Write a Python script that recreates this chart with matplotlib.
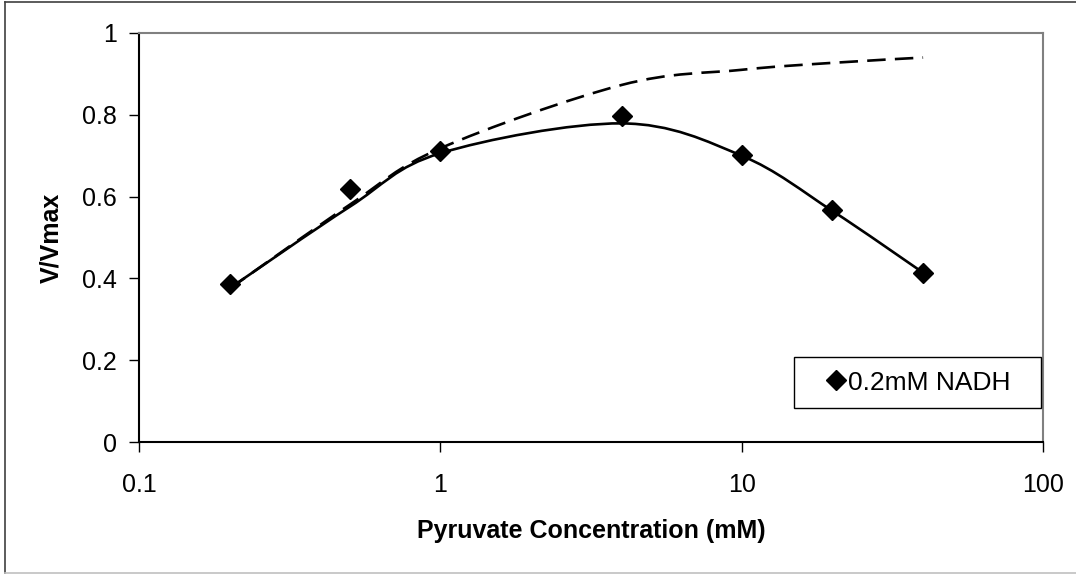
import numpy as np
import matplotlib
matplotlib.use("Agg")
import matplotlib.pyplot as plt
from matplotlib.path import Path
from matplotlib.patches import PathPatch, Rectangle
from matplotlib.lines import Line2D

# ---- data ----
conc = [0.2, 0.5, 1, 4, 10, 20, 40]                       # Pyruvate (mM)
v_obs = [0.386, 0.618, 0.712, 0.797, 0.701, 0.567, 0.414]  # measured V/Vmax, 0.2mM NADH
v_fit_inhib = [0.376, 0.575, 0.706, 0.779, 0.700, 0.565, 0.414]  # solid fitted curve nodes
v_fit_mm = [0.375, 0.580, 0.718, 0.873, 0.910, 0.927, 0.940]     # dashed curve nodes
xticks = [0.1, 1, 10, 100]
xtick_labels = ["0.1", "1", "10", "100"]
yticks = [0, 0.2, 0.4, 0.6, 0.8, 1]
ytick_labels = ["0", "0.2", "0.4", "0.6", "0.8", "1"]
series_label = "0.2mM NADH"

plt.rcParams['font.family'] = ['Liberation Sans', 'DejaVu Sans']

W, H = 1076, 574
L, R, T, B = 139, 1043, 33, 442
fig = plt.figure(figsize=(W / 100, H / 100), dpi=100)
ax = fig.add_axes([L / W, 1 - B / H, (R - L) / W, (B - T) / H])


def smooth_path(xs, ys):
    """Excel-style smoothed line (Catmull-Rom Bezier) in log-x space."""
    u = np.log10(np.asarray(xs, float))
    v = np.asarray(ys, float)
    n = len(u)
    verts = [(10 ** u[0], v[0])]
    codes = [Path.MOVETO]
    for i in range(n - 1):
        p0 = max(i - 1, 0)
        p3 = min(i + 2, n - 1)
        c1u = u[i] + (u[i + 1] - u[p0]) / 6
        c1v = v[i] + (v[i + 1] - v[p0]) / 6
        c2u = u[i + 1] - (u[p3] - u[i]) / 6
        c2v = v[i + 1] - (v[p3] - v[i]) / 6
        verts += [(10 ** c1u, c1v), (10 ** c2u, c2v), (10 ** u[i + 1], v[i + 1])]
        codes += [Path.CURVE4] * 3
    return Path(verts, codes)


ax.set_xscale('log')
ax.set_xlim(0.1, 100)
ax.set_ylim(0, 1)

ax.add_patch(PathPatch(smooth_path(conc, v_fit_mm), fill=False, edgecolor='black',
                       lw=1.9, linestyle=(0, (7.0, 3.5)), capstyle='butt', zorder=2))
ax.add_patch(PathPatch(smooth_path(conc, v_fit_inhib), fill=False, edgecolor='black',
                       lw=1.9, zorder=2))
ax.plot(conc, v_obs, linestyle='none', marker='D', markersize=10, color='black',
        zorder=3, label=series_label, clip_on=False)

ax.set_xticks(xticks)
ax.set_xticklabels(xtick_labels)
ax.xaxis.set_minor_locator(matplotlib.ticker.NullLocator())
ax.set_yticks(yticks)
ax.set_yticklabels(ytick_labels)
ax.tick_params(axis='both', direction='out', length=7.2, width=1.0, colors='black',
               labelsize=18)
ax.tick_params(axis='x', pad=15)
ax.tick_params(axis='y', pad=8.5)

for side in ['left', 'bottom']:
    ax.spines[side].set_color('black')
    ax.spines[side].set_linewidth(1.5)
for side in ['top', 'right']:
    ax.spines[side].set_color('#808080')
    ax.spines[side].set_linewidth(1.5)

ax.set_xlabel("Pyruvate Concentration (mM)", fontsize=18, fontweight='bold')
ax.xaxis.set_label_coords((591 - L) / (R - L), -(531 - B) / (B - T))
ax.xaxis.label.set_va('center')
ax.set_ylabel("V/Vmax", fontsize=18, fontweight='bold')
ax.yaxis.set_label_coords(-(L - 51) / (R - L), 0.5)
ax.yaxis.label.set_va('center')

# legend: box spans x 794..1041, y 357..408 in the reference
bx0, bx1, by0, by1 = 794, 1041, 357, 408
def ax_x(px):
    return (px - L) / (R - L)
def ax_y(py):
    return (B - py) / (B - T)

ax.add_patch(Rectangle((ax_x(bx0), ax_y(by1)), ax_x(bx1) - ax_x(bx0), ax_y(by0) - ax_y(by1),
                       transform=ax.transAxes, facecolor='white', edgecolor='black',
                       lw=1.0, zorder=4))
leg = ax.legend(loc='center', bbox_to_anchor=(ax_x(919), ax_y(382.5)),
                frameon=False, fontsize=19, handlelength=0.7,
                handletextpad=0.1, borderpad=0.0, markerscale=1.0,
                borderaxespad=0.0)
leg.set_zorder(5)

# outer chart border
fig.add_artist(Line2D([5 / W, 5 / W], [0.002, 1 - 1.5 / H], transform=fig.transFigure,
                      color='#404040', lw=1.2))
fig.add_artist(Line2D([5 / W, 1.0], [1 - 1.5 / H, 1 - 1.5 / H], transform=fig.transFigure,
                      color='#404040', lw=1.2))
fig.add_artist(Line2D([5 / W, 1.0], [1.5 / H, 1.5 / H], transform=fig.transFigure,
                      color='#c0c0c0', lw=1.2))

fig.savefig("out.png", dpi=100)
